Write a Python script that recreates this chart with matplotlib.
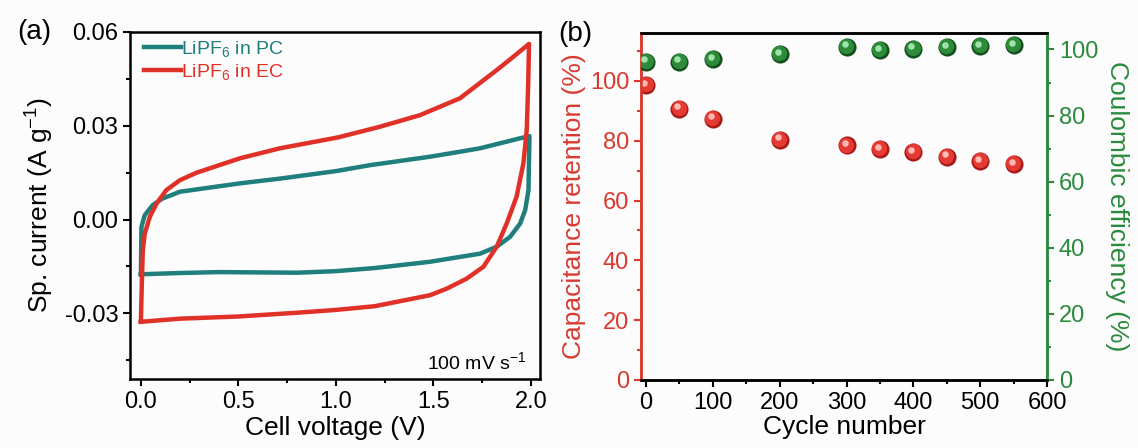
import matplotlib
matplotlib.use("Agg")
import matplotlib.pyplot as plt
from matplotlib.ticker import MultipleLocator

plt.rcParams['font.family'] = ['Liberation Sans', 'DejaVu Sans']
plt.rcParams['mathtext.fontset'] = 'custom'
plt.rcParams['mathtext.rm'] = 'Liberation Sans'
plt.rcParams['mathtext.it'] = 'Liberation Sans:italic'

# ---- Panel (a) data: CV loops (voltage V, current A/g) ----
pc_v = [0.0, 0.2, 0.4, 0.8, 1.0, 1.2, 1.482, 1.739, 1.824, 1.893, 1.944, 1.97, 1.987, 1.992,
        1.944, 1.739, 1.636, 1.482, 1.174, 1.0, 0.713, 0.51, 0.2, 0.11, 0.06, 0.02, 0.003, 0.0]
pc_i = [-0.0175, -0.0171, -0.0168, -0.0170, -0.0165, -0.0155, -0.0135, -0.0109, -0.0087, -0.0055, -0.0013, 0.0030, 0.0094, 0.0267,
        0.0260, 0.0228, 0.0217, 0.0201, 0.0174, 0.0155, 0.0131, 0.0116, 0.0089, 0.0067, 0.0046, 0.0014, -0.0023, -0.0175]

ec_v = [0.0, 0.2, 0.5, 0.8, 1.0, 1.2, 1.482, 1.568, 1.67, 1.756, 1.824, 1.875, 1.926, 1.961, 1.978, 1.985, 1.99,
        1.91, 1.824, 1.636, 1.431, 1.226, 1.012, 0.713, 0.508, 0.286, 0.2, 0.13, 0.08, 0.046, 0.02, 0.01, 0.005, 0.0]
ec_i = [-0.0327, -0.0317, -0.0310, -0.0298, -0.0289, -0.0277, -0.0242, -0.0221, -0.0189, -0.0151, -0.0087, -0.0013, 0.0073, 0.0180, 0.0286, 0.0420, 0.0562,
        0.0521, 0.0478, 0.0388, 0.0334, 0.0297, 0.0263, 0.0228, 0.0196, 0.0150, 0.0126, 0.0094, 0.0051, 0.0009, -0.0045, -0.0098, -0.0200, -0.0327]

# ---- Panel (b) data ----
cycles = [0, 50, 100, 200, 300, 350, 400, 450, 500, 550]
retention = [98.5, 90.7, 87.4, 80.3, 78.4, 77.2, 76.1, 74.6, 73.1, 72.2]
coulombic = [96.3, 96.3, 97.0, 98.5, 100.8, 99.8, 100.3, 100.7, 101.0, 101.3]

TEAL = '#1e7f7c'
RED = '#e03128'
RED_AX = '#d93a30'
GREEN = '#2a8a3c'

fig = plt.figure(figsize=(11.38, 4.48), dpi=100)
fig.patch.set_facecolor('#fcfcfc')

TFS = 17
LFS = 19

# ---------- Panel (a) ----------
ax = fig.add_axes([0.1142, 0.154, 0.3603, 0.7746])
ax.set_facecolor('#fcfcfc')
ax.plot(pc_v, pc_i, color=TEAL, lw=3.2, label='LiPF$_6$ in PC', solid_joinstyle='round')
ax.plot(ec_v, ec_i, color=RED, lw=3.2, label='LiPF$_6$ in EC', solid_joinstyle='round')
ax.set_xlim(-0.056, 2.046)
ax.set_ylim(-0.051, 0.06)
ax.set_xticks([0.0, 0.5, 1.0, 1.5, 2.0])
ax.set_yticks([-0.03, 0.0, 0.03, 0.06])
ax.set_yticklabels(['-0.03', '0.00', '0.03', '0.06'])
ax.xaxis.set_minor_locator(MultipleLocator(0.25))
ax.yaxis.set_minor_locator(MultipleLocator(0.015))
ax.tick_params(which='both', direction='out', labelsize=TFS, width=1.5, top=False, right=False)
ax.tick_params(which='major', length=5)
ax.tick_params(which='minor', length=3)
for s in ax.spines.values():
    s.set_linewidth(1.8)
ax.set_xlabel('Cell voltage (V)', fontsize=LFS, labelpad=2)
ax.set_ylabel('Sp. current (A g$^{-1}$)', fontsize=LFS, labelpad=6)
leg = ax.legend(loc='upper left', bbox_to_anchor=(0.0, 1.02), frameon=False, fontsize=14,
                handlelength=1.9, handletextpad=0.02, labelspacing=0.15, borderaxespad=0.3)
for t, c in zip(leg.get_texts(), [TEAL, RED]):
    t.set_color(c)
ax.text(0.968, 0.05, '100 mV s$^{-1}$', transform=ax.transAxes, ha='right', va='center', fontsize=14)
fig.text(0.015, 0.928, '(a)', fontsize=20, va='center', ha='left')

# ---------- Panel (b) ----------
bx = fig.add_axes([0.5633, 0.1518, 0.3568, 0.7746])
bx.set_facecolor('#fcfcfc')
bx2 = bx.twinx()

def spheres(axis, x, y, base, dark, light):
    axis.scatter(x, y, s=170, color=dark, zorder=3, linewidths=0)
    axis.scatter([v - 0.8 for v in x], [v + 0.3 for v in y], s=120, color=base, zorder=4, linewidths=0)
    axis.scatter([v - 3.0 for v in x], [v + 0.8 for v in y], s=22, color=light, zorder=5, linewidths=0)

spheres(bx, cycles, retention, '#e53a33', '#a81a16', '#ffb8b2')
bx.set_xlim(-7.5, 600)
bx.set_ylim(0, 116)
bx.set_xticks([0, 100, 200, 300, 400, 500, 600])
bx.set_yticks([0, 20, 40, 60, 80, 100])
bx.xaxis.set_minor_locator(MultipleLocator(50))
bx.yaxis.set_minor_locator(MultipleLocator(10))
bx.tick_params(axis='x', which='both', direction='out', labelsize=TFS, width=1.5)
bx.tick_params(axis='y', which='both', direction='out', labelsize=TFS, width=1.5,
               colors=RED_AX, labelcolor=RED_AX)
bx.tick_params(which='major', length=5)
bx.tick_params(which='minor', length=3)
bx.set_xlabel('Cycle number', fontsize=LFS, labelpad=1)
bx.set_ylabel('Capacitance retention (%)', fontsize=LFS, color=RED_AX, labelpad=3)

spheres(bx2, cycles, coulombic, '#2e8b3a', '#14501c', '#a0e3a8')
bx2.set_ylim(0, 105)
bx2.set_yticks([0, 20, 40, 60, 80, 100])
bx2.yaxis.set_minor_locator(MultipleLocator(10))
bx2.tick_params(axis='y', which='both', direction='out', labelsize=TFS, width=1.5,
                colors=GREEN, labelcolor=GREEN)
bx2.tick_params(which='major', length=5)
bx2.tick_params(which='minor', length=3)
bx2.set_ylabel('Coulombic efficiency (%)', fontsize=LFS, color=GREEN, rotation=270, labelpad=22)

for a in (bx, bx2):
    for s in a.spines.values():
        s.set_linewidth(1.8)
    a.spines['left'].set_color(RED_AX)
    a.spines['right'].set_color(GREEN)
    a.spines['top'].set_color('black')
    a.spines['bottom'].set_color('black')

fig.text(0.4905, 0.925, '(b)', fontsize=20, va='center', ha='left')

fig.savefig('out.png', dpi=100, facecolor=fig.get_facecolor())
